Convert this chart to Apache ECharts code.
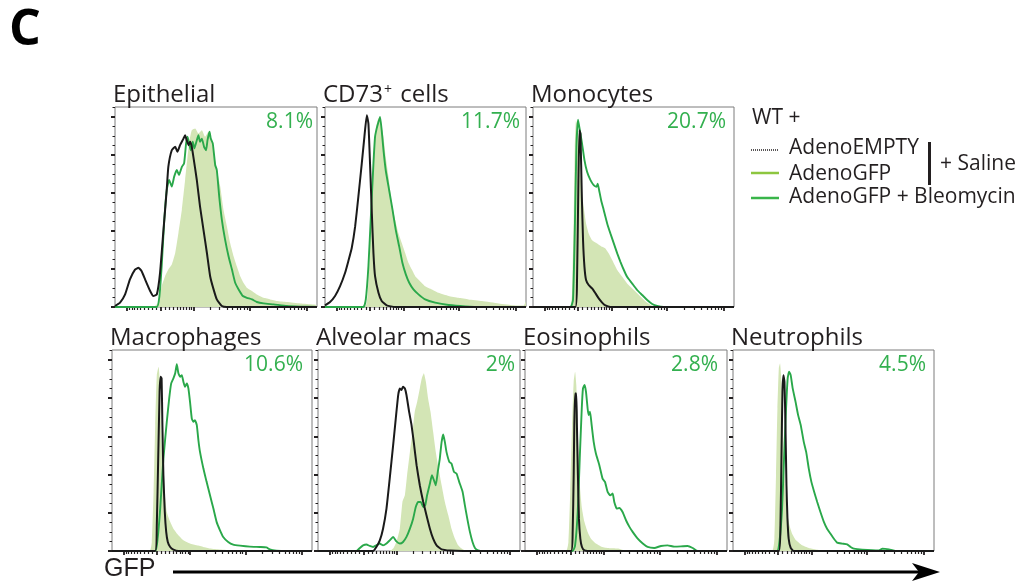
<!DOCTYPE html>
<html><head><meta charset="utf-8">
<script src="https://cdn.jsdelivr.net/npm/echarts@6/dist/echarts.min.js"></script>
<style>html,body{margin:0;padding:0;background:#fff}#c{width:1019px;height:585px}</style>
</head><body><div id="c"></div>
<script>
// ---------- panel titles & percentages ----------
const panelTitles = ['Epithelial', 'CD73{sup|+} cells', 'Monocytes', 'Macrophages', 'Alveolar macs', 'Eosinophils', 'Neutrophils'];
const percentLabels = ['8.1%', '11.7%', '20.7%', '10.6%', '2%', '2.8%', '4.5%'];
const legendNames = ['AdenoEMPTY', 'AdenoGFP', 'AdenoGFP + Bleomycin'];

// ---------- x-axis (GFP, biexponential) tick values ----------
const xMajorTickValues = [-1000, 0, 1000, 10000, 100000];
const xMinorTickValues = [-900, -800, -700, -600, -500, -400, -300, -200, -100,
  100, 200, 300, 400, 500, 600, 700, 800, 900,
  2000, 3000, 4000, 5000, 6000, 7000, 8000, 9000,
  20000, 30000, 40000, 50000, 60000, 70000, 80000, 90000];
// ---------- y-axis (% of max) tick values ----------
const yMajorTickValues = [0, 19, 38, 57, 76, 95];
const yMinorTickValues = [4.75, 9.5, 14.25, 23.75, 28.5, 33.25, 42.75, 47.5, 52.25, 61.75, 66.5, 71.25, 80.75, 85.5, 90.25, 99.75];

// ---------- histogram data: [display position (% of axis), % of max] ----------
// Epithelial
const epiEmpty = [[0,0.5],[2.5,2.2],[5.0,6.3],[7.4,13.8],[9.9,18.7],[11.6,19.6],[13.2,17.9],[14.9,13.8],[17.4,8.0],[19.0,5.5],[20.7,6.3],[22.3,17.1],[24.0,38.6],[25.6,58.5],[26.4,70.1],[28.1,78.4],[29.8,80.1],[30.9,77.6],[32.2,80.9],[33.9,84.2],[34.7,85.9],[35.5,83.4],[36.4,80.9],[37.2,82.6],[38.0,80.1],[38.8,75.1],[40.5,63.5],[42.1,50.2],[43.8,38.6],[45.5,27.0],[47.1,15.4],[48.8,8.8],[50.4,3.8],[52.9,0.5],[55.4,0],[100,0]];
const epiGfp = [[0,0],[19.0,0],[21.5,2.2],[23.1,10.4],[24.8,15.4],[26.4,18.7],[28.1,21.2],[29.8,27.0],[31.4,37.0],[33.1,48.6],[34.7,63.5],[35.9,75.1],[36.9,83.4],[38.0,88.4],[39.7,89.2],[41.3,86.7],[43.0,88.4],[44.6,85.1],[46.3,87.6],[47.1,86.7],[48.4,80.1],[50.1,70.1],[52.1,60.2],[53.7,48.6],[55.4,40.3],[57.0,32.0],[58.7,25.4],[60.3,20.4],[62.0,15.4],[63.6,12.1],[65.3,9.6],[67.8,8.0],[70.2,6.3],[73.6,4.6],[76.9,3.8],[80.2,3.0],[85.1,2.5],[91.7,1.8],[98.3,1.3],[100,1.0]];
const epiBleo = [[0,0],[20.7,0],[22.0,5.5],[23.1,20.4],[24.3,42.0],[25.6,58.5],[26.8,63.5],[28.1,60.2],[29.3,65.2],[30.6,68.5],[31.7,66.0],[33.1,70.1],[34.2,71.8],[35.2,81.8],[35.9,85.1],[36.9,80.9],[37.5,78.4],[38.5,82.6],[39.3,79.3],[40.5,83.4],[41.3,85.9],[42.1,82.6],[43.0,84.2],[44.1,80.1],[45.1,78.4],[45.8,83.4],[46.8,87.6],[47.4,84.2],[48.4,81.8],[49.6,71.0],[50.4,68.5],[51.6,55.2],[52.9,43.6],[54.5,33.7],[56.2,25.4],[57.9,18.7],[59.5,12.1],[61.2,8.8],[63.3,5.5],[65.3,4.6],[67.8,3.8],[70.2,2.5],[73.6,1.8],[78.5,1.3],[85.1,0.5],[91.7,0.2],[100,0]];
// CD73+ cells
const cd73Empty = [[0,0.8],[2.5,2.5],[5.0,5.5],[7.5,10.4],[10.0,17.1],[11.6,22.9],[13.3,29.5],[15.0,40.3],[16.6,55.2],[18.3,71.8],[19.6,85.1],[20.8,95.9],[21.6,91.7],[22.4,71.8],[23.3,46.9],[24.1,27.0],[24.9,15.4],[26.6,7.1],[28.2,3.0],[30.7,0.8],[34.9,0],[100,0]];
const cd73Gfp = [[0,0],[19.9,0],[21.3,7.1],[22.4,30.3],[23.6,63.5],[24.6,83.4],[25.4,90.0],[26.2,93.4],[27.1,95.0],[27.9,91.7],[29.1,85.1],[30.2,75.1],[31.6,65.2],[33.2,51.9],[34.9,43.6],[36.5,37.0],[38.2,32.0],[39.9,27.0],[41.5,22.1],[43.2,18.7],[44.9,15.4],[47.3,12.9],[49.8,10.4],[53.2,8.8],[56.5,7.1],[61.5,5.5],[66.4,4.6],[71.4,3.8],[78.1,3.0],[86.4,1.8],[94.7,0.8],[98.8,0.7],[100,3.0]];
const cd73Bleo = [[0,0],[19.1,0],[20.3,3.8],[21.6,20.4],[22.9,46.9],[24.1,71.8],[24.9,85.1],[25.7,89.2],[26.6,92.5],[27.4,95.0],[28.2,88.4],[29.1,78.4],[30.2,68.5],[31.9,58.5],[33.6,48.6],[35.2,38.6],[36.9,30.3],[38.5,22.1],[40.2,16.3],[41.9,12.1],[44.0,8.8],[46.5,6.3],[49.8,3.8],[54.8,2.2],[61.5,1.0],[69.8,0.3],[78.1,0],[100,0]];
// Monocytes
const monoEmpty = [[0,0],[21.1,0],[21.9,13.5],[22.6,63.4],[23.1,88.4],[23.6,86.7],[24.3,55.1],[24.9,33.4],[25.6,20.1],[26.4,13.5],[27.7,11.0],[29.4,9.3],[31.1,6.8],[32.7,4.3],[34.4,2.2],[36.0,0.8],[38.5,0],[100,0]];
const monoGfp = [[0,0],[18.3,0],[19.4,6.8],[20.3,46.8],[20.8,80.0],[21.4,93.3],[22.3,90.0],[22.9,80.0],[23.9,63.4],[25.2,50.1],[26.4,41.8],[27.7,36.8],[29.4,33.4],[31.9,31.8],[34.4,30.1],[36.0,29.3],[37.7,26.8],[39.4,23.5],[41.9,18.5],[44.4,15.1],[46.8,11.8],[50.2,8.5],[53.5,5.2],[56.0,2.7],[58.5,1.0],[61.0,0],[100,0]];
const monoBleo = [[0,0],[18.6,0],[19.9,3.5],[20.8,38.4],[21.6,80.0],[22.4,93.7],[23.3,88.4],[24.4,81.7],[25.6,73.4],[26.9,67.6],[28.6,63.4],[30.2,60.9],[31.6,60.1],[32.2,61.7],[32.9,58.4],[33.9,53.4],[35.2,48.4],[36.9,41.8],[38.5,36.8],[40.2,31.8],[41.9,26.8],[43.5,22.6],[45.2,18.5],[46.8,15.1],[49.3,11.8],[51.8,8.5],[54.3,6.0],[56.8,3.5],[59.3,1.5],[61.8,0.5],[65.1,0],[100,0]];
// Macrophages
const macEmpty = [[0,0],[21.6,0],[22.4,12.8],[23.1,46.0],[23.8,79.2],[24.3,86.7],[24.8,85.9],[25.2,62.6],[25.7,37.7],[26.4,19.4],[27.1,9.5],[27.9,4.5],[29.1,2.0],[30.7,0.7],[33.2,0],[100,0]];
const macGfp = [[0,0],[18.8,0],[19.9,4.5],[20.8,29.4],[21.6,62.6],[22.4,87.5],[23.3,91.7],[23.8,85.9],[24.4,65.9],[25.1,46.0],[25.7,34.4],[26.6,26.1],[27.4,19.4],[29.1,14.5],[30.7,11.1],[33.2,7.8],[35.7,5.3],[39.0,3.7],[42.4,2.8],[45.7,2.0],[49.0,1.2],[54.0,0.7],[60.6,0.2],[65.6,0],[100,0]];
const macBleo = [[0,0],[21.6,0],[22.8,6.1],[24.1,21.1],[25.7,46.0],[27.4,64.3],[28.6,75.9],[29.6,83.4],[30.7,85.9],[31.6,88.4],[32.4,92.9],[33.2,88.4],[34.1,86.7],[34.9,87.5],[35.7,84.2],[36.5,81.7],[37.4,83.4],[38.2,80.9],[39.0,74.3],[39.9,65.9],[40.7,64.3],[41.5,65.1],[42.4,62.6],[43.2,55.1],[44.0,49.3],[45.7,41.0],[47.3,34.4],[49.0,27.7],[50.7,21.1],[52.3,14.5],[54.0,10.3],[55.6,7.0],[58.1,4.5],[60.6,3.2],[64.0,2.7],[68.9,2.2],[73.9,2.0],[77.2,1.8],[78.9,0.8],[82.2,0.2],[87.2,0],[100,0]];
// Alveolar macs
const alvEmpty = [[0,0],[27.3,0],[28.9,2.0],[30.6,5.3],[32.2,11.1],[33.9,21.1],[35.5,36.0],[37.2,52.7],[38.5,65.9],[39.7,77.6],[40.5,80.9],[41.3,80.1],[42.1,81.7],[43.0,80.9],[43.8,77.6],[45.1,69.3],[46.3,62.6],[47.4,54.3],[48.8,42.7],[50.4,32.7],[52.1,24.4],[53.7,17.8],[55.4,11.1],[57.0,6.1],[58.7,2.8],[61.2,0.8],[65.3,0.2],[71.9,0],[100,0]];
const alvGfp = [[0,0],[35.5,0],[37.2,1.2],[38.8,4.5],[40.5,11.1],[41.8,24.4],[43.0,27.7],[44.1,37.7],[45.5,49.3],[46.8,59.3],[47.9,69.3],[49.1,74.3],[50.4,80.9],[51.4,85.9],[52.4,88.4],[53.4,84.2],[54.5,75.9],[55.7,69.3],[57.0,59.3],[58.3,49.3],[59.7,41.0],[61.2,32.7],[62.8,24.4],[64.5,17.8],[66.1,11.1],[67.8,6.1],[69.4,2.8],[71.1,1.2],[73.6,0],[100,0]];
const alvBleo = [[0,0],[19.0,0],[20.7,1.5],[22.3,2.8],[24.0,3.2],[25.6,2.5],[27.3,2.0],[28.9,2.8],[30.6,3.7],[32.2,2.8],[33.9,3.7],[35.5,5.3],[37.2,7.0],[38.8,4.8],[40.5,3.7],[42.1,4.5],[43.8,7.0],[45.5,11.1],[47.1,16.1],[48.4,21.9],[49.6,24.4],[50.9,24.4],[52.1,21.9],[53.1,22.8],[54.0,27.7],[55.4,33.6],[56.4,37.7],[57.4,35.2],[58.3,32.7],[59.3,39.4],[60.3,46.0],[61.2,54.3],[62.0,58.0],[62.8,54.3],[63.6,49.3],[65.0,44.4],[66.1,43.5],[67.3,39.4],[68.6,38.5],[69.9,34.4],[71.6,29.4],[72.7,22.8],[73.9,16.1],[75.2,9.5],[76.5,4.5],[77.7,1.5],[79.3,0.3],[81.8,0],[100,0]];
// Eosinophils
const eosEmpty = [[0,0],[22.8,0],[23.6,9.5],[24.1,37.7],[24.4,62.6],[24.8,78.4],[25.4,78.4],[25.7,62.6],[26.2,37.7],[26.7,16.1],[27.4,6.1],[28.2,2.0],[29.4,0.3],[31.0,0],[100,0]];
const eosGfp = [[0,0],[20.3,0],[21.5,4.5],[22.4,29.4],[23.3,62.6],[24.1,84.2],[24.8,89.2],[25.4,82.6],[26.1,62.6],[26.7,42.7],[27.4,29.4],[28.2,21.1],[29.4,14.5],[31.0,9.5],[32.7,6.1],[35.1,3.7],[37.6,2.3],[40.9,1.5],[45.9,1.2],[49.2,0.3],[52.5,0],[100,0]];
const eosBleo = [[0,0],[23.6,0],[24.8,2.8],[26.1,19.4],[27.1,46.0],[28.1,70.9],[28.7,80.9],[29.5,82.6],[30.2,79.2],[31.0,70.9],[31.5,67.6],[32.2,69.3],[33.0,62.6],[34.0,54.3],[35.1,48.5],[36.8,42.7],[38.4,36.0],[39.6,34.4],[40.9,29.4],[42.2,27.7],[43.4,28.6],[44.2,24.4],[45.4,21.1],[46.7,21.4],[48.3,19.4],[50.0,15.3],[51.7,12.0],[53.3,9.5],[55.8,6.1],[58.3,3.7],[60.7,2.0],[64.0,1.5],[67.3,2.5],[70.6,2.8],[73.9,2.2],[77.2,2.3],[80.5,2.5],[83.0,1.5],[85.5,0],[100,0]];
// Neutrophils
const neuEmpty = [[0,0],[22.8,0],[23.6,12.8],[24.1,46.0],[24.6,79.2],[25.1,87.5],[25.6,84.2],[26.1,62.6],[26.6,32.7],[27.1,16.1],[27.7,6.1],[28.7,1.5],[30.2,0],[100,0]];
const neuGfp = [[0,0],[19.4,0],[20.6,6.1],[21.4,37.7],[22.1,70.9],[22.8,90.9],[23.4,93.4],[24.1,84.2],[24.8,62.6],[25.4,42.7],[26.1,29.4],[26.9,19.4],[28.1,12.8],[29.4,8.6],[31.4,5.3],[34.4,2.8],[37.7,1.5],[41.0,0.8],[44.4,0.3],[47.7,0],[100,0]];
const neuBleo = [[0,0],[21.9,0],[23.1,4.5],[24.4,21.1],[25.4,46.0],[26.4,70.9],[27.2,85.9],[27.9,89.2],[28.7,87.5],[29.7,80.9],[31.1,74.3],[32.4,67.6],[33.7,62.6],[35.2,54.3],[36.4,49.3],[37.7,41.0],[39.0,34.4],[40.4,29.4],[41.9,24.4],[43.5,19.4],[45.2,14.5],[46.8,11.1],[48.5,8.6],[50.2,6.1],[51.8,4.2],[54.3,3.7],[56.8,3.3],[58.5,2.0],[60.1,1.2],[64.3,0.7],[72.6,0.3],[74.3,1.2],[77.6,0.8],[80.9,0],[100,0]];

const emptySeries = [epiEmpty, cd73Empty, monoEmpty, macEmpty, alvEmpty, eosEmpty, neuEmpty];
const gfpSeries = [epiGfp, cd73Gfp, monoGfp, macGfp, alvGfp, eosGfp, neuGfp];
const bleoSeries = [epiBleo, cd73Bleo, monoBleo, macBleo, alvBleo, eosBleo, neuBleo];

// ---------- layout (pixels) ----------
const gridBoxes = [
  [115, 107, 202, 200], [325, 107, 201, 200], [533, 107, 201, 200],
  [112, 350, 200, 201], [318, 350, 202, 201], [525, 350, 202, 201], [733, 350, 201, 201]
];
const pctRightGap = [4, 6, 8, 9, 5, 9, 8];

const INK = '#231f20';
const GREEN = '#2aa84a';
const GREEN_TXT = '#33b04f';
const FILL = '#d3e5b5';
const LIME = '#8dc63f';
const LEG_GREEN = '#39b54a';

// biexponential display scale for GFP tick positions (% of axis)
function biex(v) { return 22.5 + 28.5 * Math.asinh(v / 566) / Math.LN10; }
const xMajorPos = xMajorTickValues.map(biex).filter(p => p >= 0 && p <= 100);
const xMinorPos = xMinorTickValues.map(biex).filter(p => p >= 0 && p <= 100);

const grids = [], xAxes = [], yAxes = [], series = [], graphics = [];
gridBoxes.forEach((b, i) => {
  grids.push({ left: b[0], top: b[1], width: b[2], height: b[3], show: true,
    borderColor: '#7d7d7d', borderWidth: 1, backgroundColor: 'transparent' });
  const xBase = { type: 'value', gridIndex: i, min: 0, max: 100, position: 'bottom',
    axisLine: { show: false }, axisLabel: { show: false }, splitLine: { show: false } };
  xAxes.push(Object.assign({}, xBase, { axisTick: { show: true, customValues: xMajorPos, length: 4, lineStyle: { color: INK, width: 1.8 } } }));
  xAxes.push(Object.assign({}, xBase, { axisTick: { show: true, customValues: xMinorPos, length: 3, lineStyle: { color: INK, width: 1.2 } } }));
  const yBase = { type: 'value', gridIndex: i, min: 0, max: 100, position: 'left',
    axisLine: { show: false }, axisLabel: { show: false }, splitLine: { show: false } };
  yAxes.push(Object.assign({}, yBase, { axisTick: { show: true, customValues: yMajorTickValues, length: 4, lineStyle: { color: INK, width: 2 } } }));
  yAxes.push(Object.assign({}, yBase, { axisTick: { show: true, customValues: yMinorTickValues, length: 2.5, lineStyle: { color: INK, width: 1 } } }));
  const ax = { xAxisIndex: 2 * i, yAxisIndex: 2 * i, type: 'line', showSymbol: false, symbol: 'none', smooth: 0.15, silent: true };
  series.push(Object.assign({}, ax, { name: legendNames[1], data: gfpSeries[i], z: 2,
    lineStyle: { width: 0, opacity: 0 }, areaStyle: { color: FILL, opacity: 1 } }));
  series.push(Object.assign({}, ax, { name: legendNames[2], data: bleoSeries[i], z: 3,
    lineStyle: { color: GREEN, width: 1.9 } }));
  series.push(Object.assign({}, ax, { name: legendNames[0], data: emptySeries[i], z: 4,
    lineStyle: { color: '#1a1a1a', width: 2 } }));
  // panel title
  graphics.push({ type: 'text', x: b[0] - 2, y: b[1] - 12,
    style: { text: panelTitles[i], fill: INK, font: '24px "Open Sans"', align: 'left', verticalAlign: 'middle',
      rich: { sup: { fontSize: 14, fontFamily: 'Open Sans', fill: INK, verticalAlign: 'top', padding: [0, 2, 0, 1] } } } });
  // percentage
  graphics.push({ type: 'text', x: b[0] + b[2] - pctRightGap[i], y: b[1] + 15,
    style: { text: percentLabels[i], fill: GREEN_TXT, font: '21px "Open Sans"', align: 'right', verticalAlign: 'middle' } });
});

// panel letter
graphics.push({ type: 'text', x: 9, y: 31, style: { text: 'C', fill: '#000', font: 'bold 50px "Open Sans"', align: 'left', verticalAlign: 'middle' } });
// legend
const legFont = '21px "Open Sans"';
graphics.push({ type: 'text', x: 752, y: 118, style: { text: 'WT +', fill: INK, font: legFont, verticalAlign: 'middle' } });
graphics.push({ type: 'line', shape: { x1: 751, y1: 150, x2: 779, y2: 150 }, style: { stroke: INK, lineWidth: 1.5, lineDash: [1, 1] } });
graphics.push({ type: 'text', x: 789, y: 148.5, style: { text: legendNames[0], fill: INK, font: legFont, verticalAlign: 'middle' } });
graphics.push({ type: 'line', shape: { x1: 751, y1: 173, x2: 779, y2: 173 }, style: { stroke: LIME, lineWidth: 2.5 } });
graphics.push({ type: 'text', x: 789, y: 174, style: { text: legendNames[1], fill: INK, font: legFont, verticalAlign: 'middle' } });
graphics.push({ type: 'line', shape: { x1: 751, y1: 198, x2: 779, y2: 198 }, style: { stroke: LEG_GREEN, lineWidth: 2.5 } });
graphics.push({ type: 'text', x: 789, y: 197.5, style: { text: legendNames[2], fill: INK, font: legFont, verticalAlign: 'middle' } });
graphics.push({ type: 'rect', shape: { x: 928, y: 142, width: 3, height: 43 }, style: { fill: INK } });
graphics.push({ type: 'text', x: 940, y: 164, style: { text: '+ Saline', fill: INK, font: legFont, verticalAlign: 'middle' } });
// GFP axis label and arrow
graphics.push({ type: 'text', x: 104, y: 569.5, style: { text: 'GFP', fill: INK, font: '25px "Liberation Sans"', verticalAlign: 'middle' } });
graphics.push({ type: 'line', shape: { x1: 173, y1: 572, x2: 922, y2: 572 }, style: { stroke: '#000', lineWidth: 3 } });
graphics.push({ type: 'polygon', shape: { points: [[940, 572], [912, 563], [919, 572], [912, 581]] }, style: { fill: '#000' } });

const chart = echarts.init(document.getElementById('c'), null, { renderer: 'canvas' });
chart.setOption({
  animation: false,
  backgroundColor: '#fff',
  grid: grids, xAxis: xAxes, yAxis: yAxes, series: series,
  graphic: { elements: graphics }
});
</script></body></html>
